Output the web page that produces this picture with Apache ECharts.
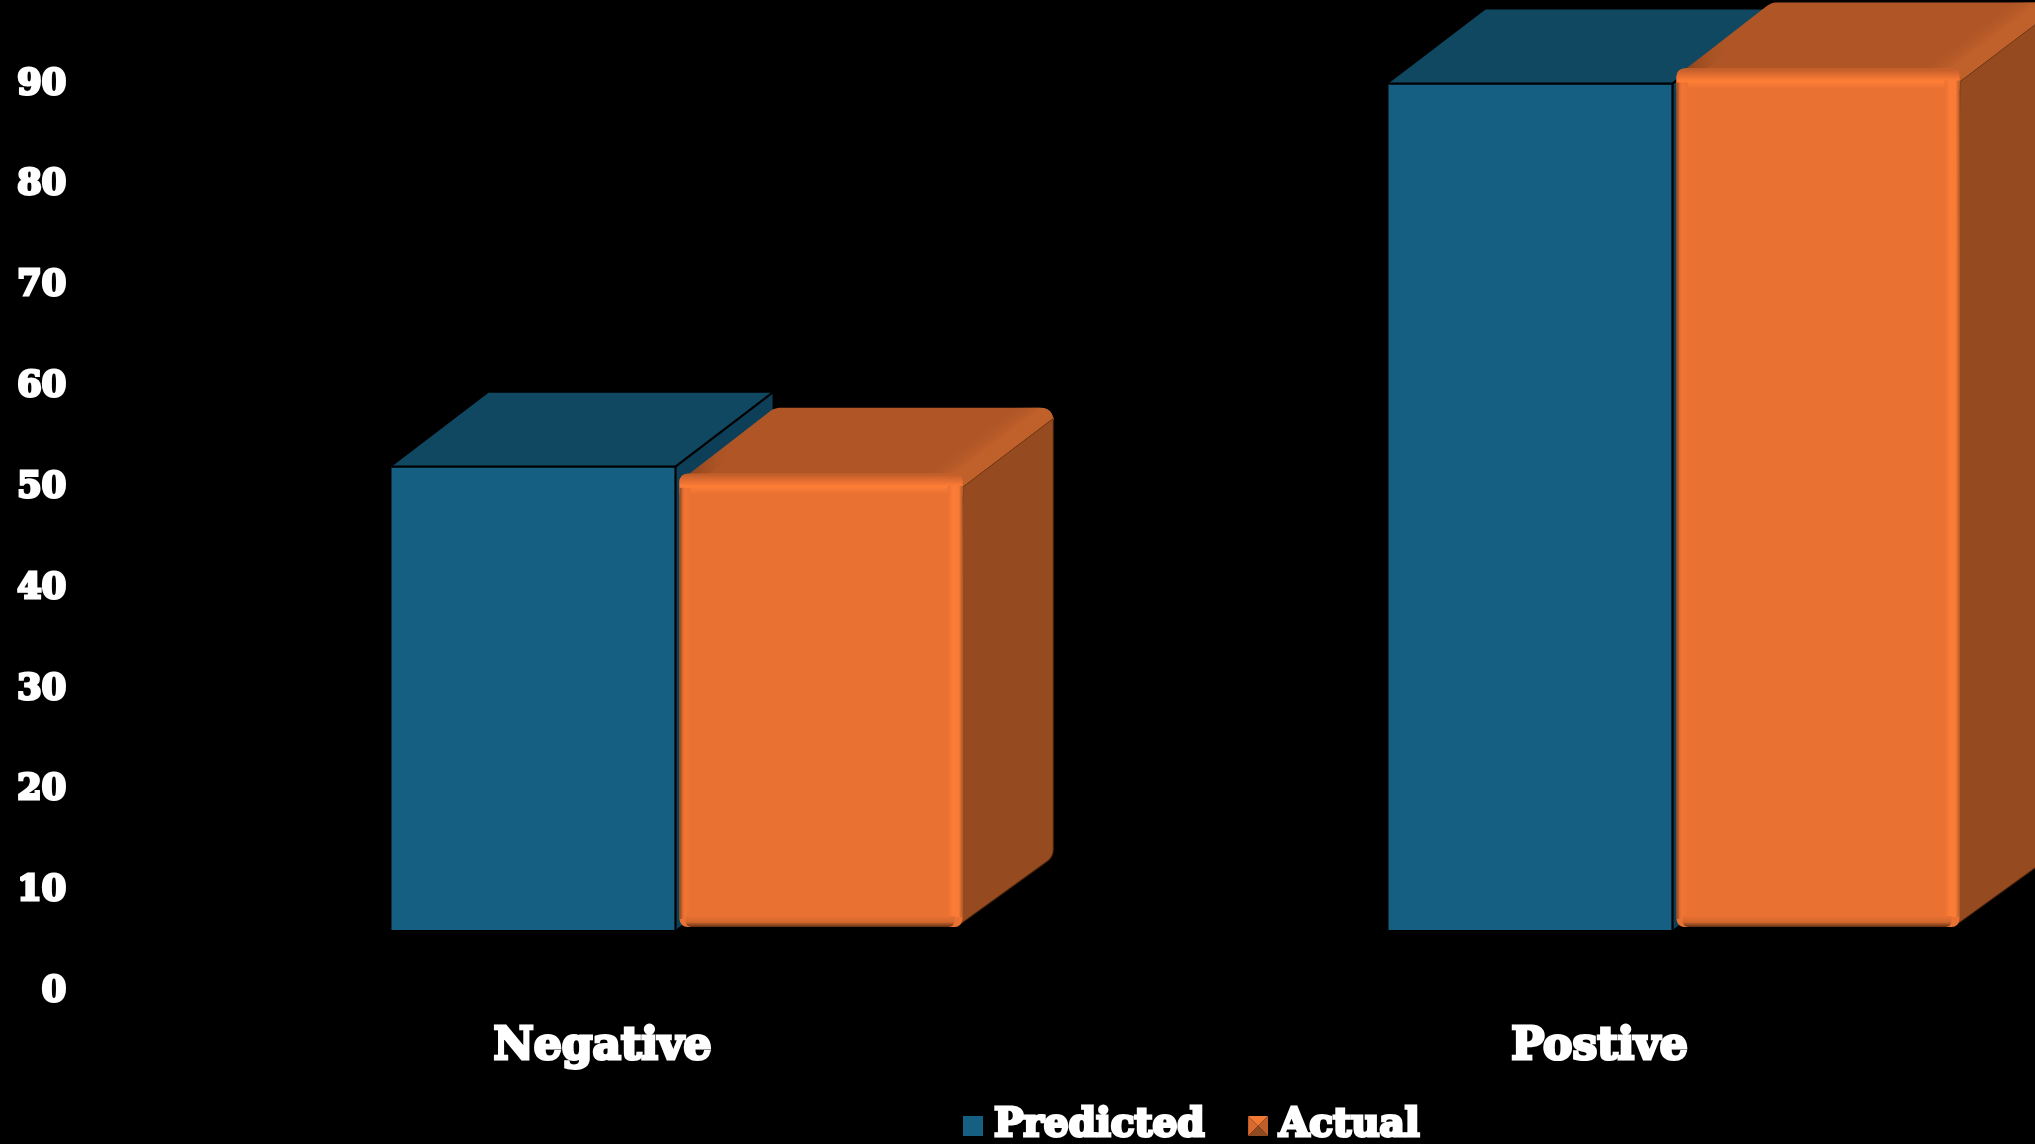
<!DOCTYPE html>
<html><head><meta charset="utf-8">
<style>html,body{margin:0;padding:0;background:#000}#c{width:2035px;height:1144px}</style>
<script src="https://cdn.jsdelivr.net/npm/echarts@6/dist/echarts.min.js"></script>
</head><body><div id="c"></div>
<script>
const categories = ['Negative', 'Postive'];
const predicted = [51.7, 89.7];
const actual = [51.2, 91.4];
const tickValues = [0, 10, 20, 30, 40, 50, 60, 70, 80, 90];
const seriesNames = ['Predicted', 'Actual'];

const FONT = '"DejaVu Serif",serif';
const FLOOR_PRED = 5.75, FLOOR_ACT = 6.05;
const g = (x0, y0, x1, y1, stops, global) => new echarts.graphic.LinearGradient(x0, y0, x1, y1,
  stops.map(s => ({offset: s[0], color: s[1]})), !!global);

function roundPoly(pts, radii) {
  const out = [];
  const n = pts.length;
  for (let i = 0; i < n; i++) {
    const p = pts[i], r = radii[i] || 0;
    if (!r) { out.push(p); continue; }
    const a = pts[(i + n - 1) % n], b = pts[(i + 1) % n];
    const la = Math.hypot(a[0] - p[0], a[1] - p[1]), lb = Math.hypot(b[0] - p[0], b[1] - p[1]);
    const s = [p[0] + (a[0] - p[0]) * r / la, p[1] + (a[1] - p[1]) * r / la];
    const e = [p[0] + (b[0] - p[0]) * r / lb, p[1] + (b[1] - p[1]) * r / lb];
    for (let t = 0; t <= 6; t++) {
      const u = t / 6, v = 1 - u;
      out.push([v * v * s[0] + 2 * u * v * p[0] + u * u * e[0], v * v * s[1] + 2 * u * v * p[1] + u * u * e[1]]);
    }
  }
  return out;
}
const poly = (points, style) => ({type: 'polygon', shape: {points}, style});
const line = (x1, y1, x2, y2, w) => ({type: 'line', shape: {x1, y1, x2, y2}, style: {stroke: '#000', lineWidth: w || 2.2}});

function renderPredicted(params, api) {
  const c = api.coord([api.value(0), api.value(1)]);
  const B = api.coord([api.value(0), FLOOR_PRED])[1];
  const L = c[0] - 211, R = c[0] + 73, T = c[1], dx = 97, dy = 74;
  return {type: 'group', children: [
    poly([[R, T], [R + dx, T - dy], [R + dx, B - dy], [R, B]], {fill: '#0D4058'}),
    poly([[L, T], [L + dx, T - dy], [R + dx, T - dy], [R, T]], {fill: '#104862'}),
    {type: 'rect', shape: {x: L, y: T, width: R - L, height: B - T}, style: {fill: '#156082'}},
    line(L, T, R, T), line(R, T, R, B), line(R, T, R + dx, T - dy)
  ]};
}

function renderActual(params, api) {
  const c = api.coord([api.value(0), api.value(1)]);
  const B = api.coord([api.value(0), FLOOR_ACT])[1];
  const L = c[0] + 77, R = c[0] + 360, T = c[1], dx = 91;
  const topBack = T - 64, cornerY = T + 15, backBottom = B - 70;
  const side = roundPoly([[R, cornerY], [R + dx, cornerY - 69], [R + dx, backBottom], [R - 6, B]], [0, 0, 8, 0]);
  const top = roundPoly([[L + 1, T + 9], [L + 95, topBack], [R + dx, topBack], [R + dx, cornerY - 69], [R, cornerY], [R - 12, T + 10]], [6, 6, 14, 0, 0, 0]);
  const bandX = R - 0.6 * 34, bandY = cornerY - 0.8 * 34;
  return {type: 'group', children: [
    poly(side, {fill: '#954A1F', stroke: 'rgba(50,22,6,0.55)', lineWidth: 1.5}),
    poly(top, {fill: '#B05626'}),
    poly(top, {fill: g(R, cornerY, bandX, bandY, [[0, '#C0602B'], [0.45, '#C0602B'], [1, 'rgba(176,86,38,0)']], true)}),
    poly([[L + 1, T + 9], [L + 95, topBack], [L + 112, topBack], [L + 22, T + 9]],
      {fill: g(0, 0, 1, 0, [[0, 'rgba(110,52,20,0.7)'], [0.5, 'rgba(176,86,38,0)'], [1, 'rgba(176,86,38,0)']])}),
    {type: 'rect', shape: {x: L, y: T + 2, width: R - L, height: B - T - 2, r: [8, 8, 8, 8]}, style: {fill: '#E97132'}},
    {type: 'rect', shape: {x: L, y: T + 2, width: R - L, height: 21, r: [8, 8, 0, 0]},
      style: {fill: g(0, 0, 0, 1, [[0, '#BC5C29'], [0.3, '#E06C30'], [0.62, '#FF7E36'], [0.78, '#F47835'], [1, '#E97132']])}},
    {type: 'rect', shape: {x: L, y: T + 16, width: 11, height: B - T - 24},
      style: {fill: g(0, 0, 1, 0, [[0, '#8A441E'], [0.3, '#E06C30'], [0.5, '#F27635'], [1, '#E97132']])}},
    {type: 'rect', shape: {x: R - 15, y: T + 14, width: 15, height: B - T - 24},
      style: {fill: g(0, 0, 1, 0, [[0, '#E97132'], [0.35, '#FB7C36'], [0.75, '#F87B36'], [1, '#B55A28']])}},
    {type: 'rect', shape: {x: L + 6, y: B - 11, width: R - L - 14, height: 11, r: [0, 0, 6, 6]},
      style: {fill: g(0, 0, 0, 1, [[0, '#E97132'], [0.55, '#D3672D'], [1, '#5E2E13']])}}
  ]};
}

const icon = 'image://data:image/svg+xml,' + encodeURIComponent(
  '<svg xmlns="http://www.w3.org/2000/svg" width="20" height="20" viewBox="0 0 20 20">' +
  '<polygon points="0,0 20,0 10,10" fill="#F07935"/>' +
  '<polygon points="0,0 10,10 0,20" fill="#D9692E"/>' +
  '<polygon points="20,0 20,20 10,10" fill="#BE5E2A"/>' +
  '<polygon points="0,20 20,20 10,10" fill="#8F4A22"/></svg>');

const chart = echarts.init(document.getElementById('c'));
chart.setOption({
  backgroundColor: '#000',
  animation: false,
  grid: {left: 104, top: 80.5, width: 1994, height: 907.5, containLabel: false, outerBoundsMode: 'none'},
  legend: {
    left: 963, top: 1105, padding: 0, itemWidth: 20, itemHeight: 20, itemGap: 42,
    data: [{name: seriesNames[0], icon: 'rect'}, {name: seriesNames[1], icon: icon}],
    textStyle: {color: '#fff', fontFamily: FONT, fontWeight: 'bold', fontSize: 39,
      textBorderColor: '#fff', textBorderWidth: 3, padding: [4, 0, 0, 6]}
  },
  xAxis: {
    type: 'category', data: categories,
    axisLine: {show: false}, axisTick: {show: false}, splitLine: {show: false},
    axisLabel: {color: '#fff', fontFamily: FONT, fontWeight: 'bold', fontSize: 44, margin: 38,
      textBorderColor: '#fff', textBorderWidth: 3}
  },
  yAxis: {
    type: 'value', min: tickValues[0], max: tickValues[tickValues.length - 1], interval: 10,
    axisLine: {show: false}, axisTick: {show: false}, splitLine: {show: false},
    axisLabel: {margin: 38, formatter: '{v|{value}}',
      rich: {v: {color: '#fff', fontFamily: FONT, fontWeight: 'bold', fontSize: 35,
        textBorderColor: '#fff', textBorderWidth: 3, padding: [8, 0, 0, 0]}}}
  },
  series: [
    {name: seriesNames[0], type: 'custom', renderItem: renderPredicted, itemStyle: {color: '#156082'},
      encode: {x: 0, y: 1}, data: predicted.map((v, i) => [i, v]), z: 2},
    {name: seriesNames[1], type: 'custom', renderItem: renderActual, itemStyle: {color: '#E97132'},
      encode: {x: 0, y: 1}, data: actual.map((v, i) => [i, v]), z: 3}
  ]
});
</script></body></html>
